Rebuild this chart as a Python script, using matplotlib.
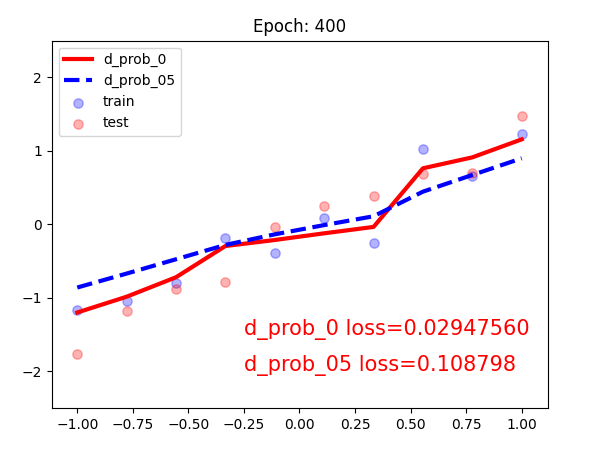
import numpy as np
import matplotlib
matplotlib.use('Agg')
import matplotlib.pyplot as plt

x = np.linspace(-1, 1, 10)

train_y = [-1.17, -1.04, -0.80, -0.186, -0.386, 0.09, -0.256, 1.026, 0.658, 1.23]
test_y = [-1.765, -1.18, -0.88, -0.785, -0.04, 0.248, 0.382, 0.685, 0.703, 1.475]
d_prob_0 = [-1.20, -0.985, -0.72, -0.295, -0.213, -0.122, -0.035, 0.763, 0.912, 1.157]
d_prob_05 = [-0.86, -0.67, -0.475, -0.28, -0.136, -0.01, 0.11, 0.445, 0.672, 0.899]

loss_0 = 0.02947560
loss_05 = 0.108798

fig = plt.figure(figsize=(6, 4.55), dpi=100)
ax = fig.add_axes([51.7 / 600, 1 - 408 / 455, 496 / 600, 367.3 / 455])

ax.plot(x, d_prob_0, 'r-', lw=3, label='d_prob_0')
ax.plot(x, d_prob_05, 'b--', lw=3, label='d_prob_05')
ax.scatter(x, train_y, c='blue', s=45, alpha=0.3, label='train')
ax.scatter(x, test_y, c='red', s=45, alpha=0.3, label='test')

ax.text(-0.25, -1.5, 'd_prob_0 loss=%.8f' % loss_0, fontdict={'size': 15, 'color': 'red'})
ax.text(-0.25, -2.0, 'd_prob_05 loss=%.6f' % loss_05, fontdict={'size': 15, 'color': 'red'})

ax.legend(loc='upper left')
ax.set_xlim(-1.115, 1.117)
ax.set_ylim(-2.5, 2.5)
ax.set_title('Epoch: 400')

fig.savefig('out.png', dpi=100)
